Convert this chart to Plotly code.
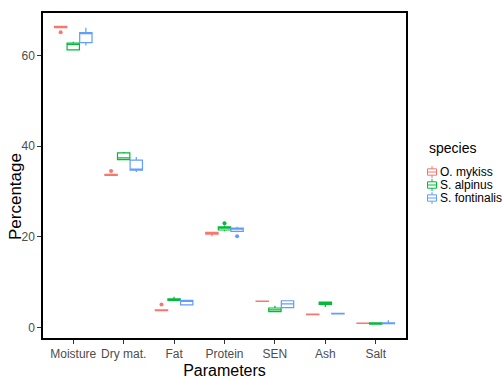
import plotly.graph_objects as go

categories = ["Moisture", "Dry mat.", "Fat", "Protein", "SEN", "Ash", "Salt"]
species = ["O. mykiss", "S. alpinus", "S. fontinalis"]
colors = ["#F8766D", "#00BA38", "#619CFF"]

# box stats per species, per category: lower whisker, q1, median, q3, upper whisker
om_low = [66.1, 33.5, 3.7, 20.1, 5.7, 2.8, 0.85]
om_q1 = [66.1, 33.55, 3.7, 20.6, 5.75, 2.85, 0.9]
om_med = [66.25, 33.65, 3.8, 20.8, 5.8, 2.9, 0.95]
om_q3 = [66.4, 33.75, 3.9, 21.0, 5.85, 2.95, 1.0]
om_high = [66.4, 33.8, 3.9, 21.1, 5.9, 3.0, 1.0]

sa_low = [61.1, 36.9, 5.9, 21.2, 3.5, 4.5, 0.7]
sa_q1 = [61.2, 37.0, 6.0, 21.5, 3.5, 5.1, 0.75]
sa_med = [62.4, 37.4, 6.1, 21.9, 3.9, 5.4, 0.9]
sa_q3 = [62.7, 38.5, 6.3, 22.2, 4.3, 5.6, 1.05]
sa_high = [63.0, 38.7, 6.8, 22.5, 4.8, 5.7, 1.1]

sf_low = [62.2, 34.3, 5.0, 21.0, 4.4, 2.95, 0.8]
sf_q1 = [62.8, 34.7, 5.0, 21.2, 4.4, 3.0, 0.85]
sf_med = [64.8, 34.9, 5.8, 21.8, 5.2, 3.05, 0.95]
sf_q3 = [65.0, 36.9, 6.0, 21.9, 5.9, 3.1, 1.05]
sf_high = [66.1, 37.6, 6.0, 22.2, 6.0, 3.1, 1.6]

# outliers: category index and value
om_out_cat = [0, 1, 2]
om_out_val = [65.1, 34.5, 5.1]
sa_out_cat = [3]
sa_out_val = [23.0]
sf_out_cat = [3]
sf_out_val = [20.1]

stats = [
    (om_low, om_q1, om_med, om_q3, om_high, om_out_cat, om_out_val),
    (sa_low, sa_q1, sa_med, sa_q3, sa_high, sa_out_cat, sa_out_val),
    (sf_low, sf_q1, sf_med, sf_q3, sf_high, sf_out_cat, sf_out_val),
]

W, H = 502, 379
ML, MR, MT, MB = 43, 96, 13, 41
PW, PH = W - ML - MR, H - MT - MB


def px_x(px):
    return (px - ML) / PW


def px_y(py):
    return (H - MB - py) / PH


dodge = 0.25
fig = go.Figure()
for j, (name, col, st) in enumerate(zip(species, colors, stats)):
    low, q1, med, q3, high, oc, ov = st
    off = (j - 1) * dodge
    xs = [i + off for i in range(len(categories))]
    fig.add_trace(go.Box(
        x=xs, lowerfence=low, q1=q1, median=med, q3=q3, upperfence=high,
        name=name, width=dodge * 0.98, fillcolor="white",
        line=dict(color=col, width=1.2), whiskerwidth=0,
        boxpoints=False, showlegend=False,
    ))
    fig.add_trace(go.Scatter(
        x=[c + off for c in oc], y=ov, mode="markers",
        marker=dict(color=col, size=4), showlegend=False,
        hoverinfo="skip",
    ))

# y axis title, placed like the reference
annotations = [dict(
    text="Percentage", x=px_x(15), y=px_y(197), xref="paper", yref="paper",
    xanchor="center", yanchor="middle", showarrow=False, textangle=-90,
    font=dict(size=17, color="black"),
)]

# legend (ggplot-style, drawn with shapes and annotations)
annotations.append(dict(
    text="species", x=px_x(427), y=px_y(148), xref="paper", yref="paper",
    xanchor="left", yanchor="middle", showarrow=False,
    font=dict(size=14, color="black"),
))
shapes = []
row0, row_step = 172, 13
for k, (name, col) in enumerate(zip(species, colors)):
    cy = row0 + k * row_step
    cx = 432
    annotations.append(dict(
        text=name, x=px_x(438), y=px_y(cy), xref="paper", yref="paper",
        xanchor="left", yanchor="middle", showarrow=False,
        font=dict(size=12, color="black"),
    ))
    shapes.append(dict(type="rect", xref="paper", yref="paper",
                       x0=px_x(cx - 4.5), x1=px_x(cx + 4.5),
                       y0=px_y(cy - 3.2), y1=px_y(cy + 3.2),
                       line=dict(color=col, width=1), fillcolor="white"))
    shapes.append(dict(type="line", xref="paper", yref="paper",
                       x0=px_x(cx - 4.5), x1=px_x(cx + 4.5),
                       y0=px_y(cy), y1=px_y(cy),
                       line=dict(color=col, width=1)))
    shapes.append(dict(type="line", xref="paper", yref="paper",
                       x0=px_x(cx), x1=px_x(cx),
                       y0=px_y(cy - 6), y1=px_y(cy - 3.2),
                       line=dict(color=col, width=1)))
    shapes.append(dict(type="line", xref="paper", yref="paper",
                       x0=px_x(cx), x1=px_x(cx),
                       y0=px_y(cy + 3.2), y1=px_y(cy + 6),
                       line=dict(color=col, width=1)))

fig.update_layout(
    width=W, height=H,
    margin=dict(l=ML, r=MR, t=MT, b=MB, autoexpand=False),
    paper_bgcolor="white", plot_bgcolor="white",
    font=dict(family="Liberation Sans, Arial, sans-serif", color="#4D4D4D"),
    boxmode="overlay",
    showlegend=False,
    annotations=annotations,
    shapes=shapes,
    xaxis=dict(
        range=[-0.6, 6.6], tickmode="array",
        tickvals=list(range(len(categories))), ticktext=categories,
        showgrid=False, zeroline=False, showline=True, mirror=True,
        linecolor="black", linewidth=1.5, ticks="outside", ticklen=4,
        tickangle=0,
        tickcolor="#333333", tickfont=dict(size=12, color="#4D4D4D"),
        title=dict(text="Parameters", font=dict(size=16, color="black"), standoff=5),
    ),
    yaxis=dict(
        range=[-2.31, 69.34], tickvals=[0, 20, 40, 60],
        showgrid=False, zeroline=False, showline=True, mirror=True,
        linecolor="black", linewidth=1.5, ticks="outside", ticklen=4,
        tickcolor="#333333", tickfont=dict(size=12, color="#4D4D4D"),
    ),
)

fig.write_html("out.html")
